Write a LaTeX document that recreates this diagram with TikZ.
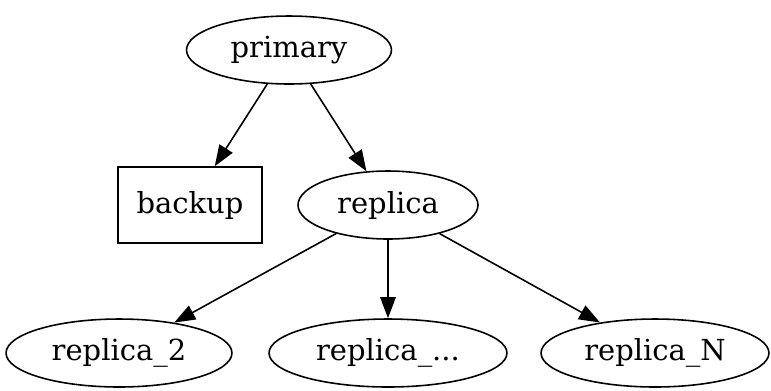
\documentclass[tikz,border=0pt]{standalone}
\usepackage{fontspec}
\setmainfont{DejaVu Serif}
\usetikzlibrary{arrows.meta,shapes.geometric}

\begin{document}
\begin{tikzpicture}[x=0.02cm,y=-0.02cm,
  every node/.style={font=\fontsize{16.5}{20}\selectfont,inner sep=0pt,draw,line width=0.9pt},
  ellnode/.style={ellipse,minimum height=1.36cm},
  boxnode/.style={rectangle,minimum width=2.88cm,minimum height=1.52cm},
  edge/.style={line width=0.9pt,-{Triangle[length=4.2mm,width=3.1mm]}}]
\useasboundingbox (0,0) rectangle (771,390);
% nodes
\node[ellnode,minimum width=4.1cm] (primary) at (289,50) {primary};
\node[boxnode] (backup) at (190,205) {backup};
\node[ellnode,minimum width=3.6cm] (replica) at (388,205) {replica};
\node[ellnode,minimum width=4.52cm] (replica2) at (119,353) {replica\_2};
\node[ellnode,minimum width=4.76cm] (replicadots) at (388,353) {replica\_...};
\node[ellnode,minimum width=4.56cm] (replicaN) at (655,353) {replica\_N};
% edges
\draw[edge] (primary) -- (backup);
\draw[edge] (primary) -- (replica);
\draw[edge] (replica) -- (replica2);
\draw[edge] (replica) -- (replicadots);
\draw[edge] (replica) -- (replicaN);
\end{tikzpicture}
\end{document}
